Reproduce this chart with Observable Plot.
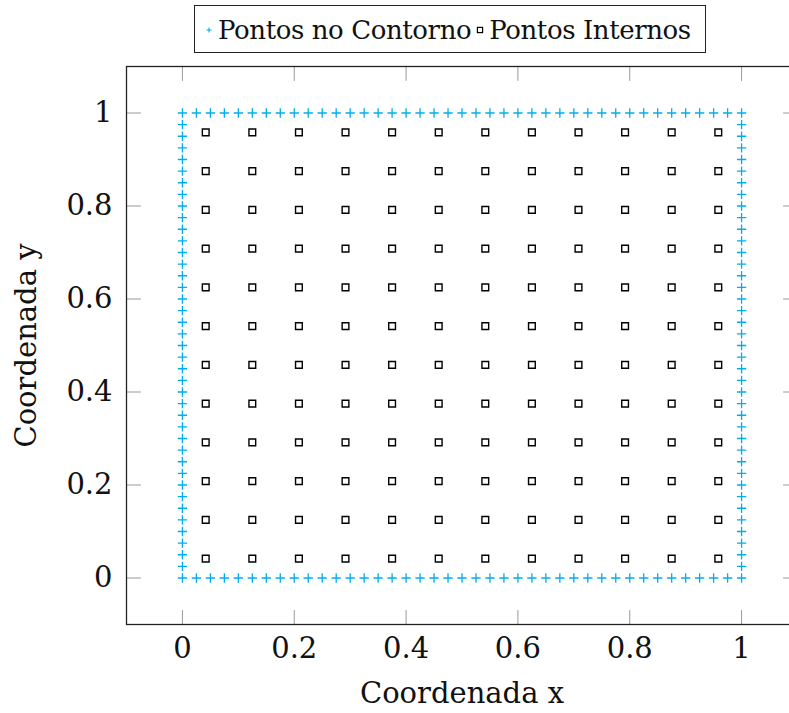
<!DOCTYPE html>
<html>
<head>
<meta charset="utf-8">
<script src="https://cdn.jsdelivr.net/npm/d3@7"></script>
<script src="https://cdn.jsdelivr.net/npm/@observablehq/plot@0.6"></script>
<style>
  html, body { margin: 0; padding: 0; background: #fff; overflow: hidden; width: 789px; height: 713px; }
  #wrap { position: relative; width: 798px; }
  .legend-row { height: 60px; position: relative; }
  .legend {
    position: absolute; left: 194px; top: 5px; height: 48px; box-sizing: border-box;
    border: 1.3px solid #222; display: flex; align-items: center;
    padding: 2px 14px 0 9px;
    font-family: "DejaVu Serif", serif; font-size: 26px; letter-spacing: -0.4px; color: #111; white-space: nowrap;
  }
  .legend svg { display: block; margin-right: 4px; }
  .legend .sep { width: 4px; }
</style>
</head>
<body>
<div id="wrap">
  <div class="legend-row">
    <div class="legend">
      <svg width="10" height="10" viewBox="-5 -5 10 10"><path d="M-2.6,0H2.6M0,-2.6V2.6" stroke="#00AEEF" stroke-width="1.1"/></svg>
      <span>Pontos no Contorno</span>
      <span class="sep"></span>
      <svg width="10" height="10" viewBox="-5 -5 10 10"><rect x="-2.6" y="-2.6" width="5.2" height="5.2" fill="none" stroke="#000" stroke-width="1.2"/></svg>
      <span>Pontos Internos</span>
    </div>
  </div>
  <div id="chart"></div>
</div>
<script>
// Coordinates of the boundary nodes along each side of the unit square
const edgeCoords = [0, 0.025, 0.05, 0.075, 0.1, 0.125, 0.15, 0.175, 0.2, 0.225,
  0.25, 0.275, 0.3, 0.325, 0.35, 0.375, 0.4, 0.425, 0.45, 0.475, 0.5,
  0.525, 0.55, 0.575, 0.6, 0.625, 0.65, 0.675, 0.7, 0.725, 0.75,
  0.775, 0.8, 0.825, 0.85, 0.875, 0.9, 0.925, 0.95, 0.975, 1];
// Coordinates of the interior nodes (same in x and y)
const innerCoords = [0.041667, 0.125, 0.208333, 0.291667, 0.375, 0.458333,
  0.541667, 0.625, 0.708333, 0.791667, 0.875, 0.958333];
// Axis ticks
const tickValues = [0, 0.2, 0.4, 0.6, 0.8, 1];
const tickLabels = ["0", "0.2", "0.4", "0.6", "0.8", "1"];
const axisTitles = ["Coordenada x", "Coordenada y"];

// Boundary nodes: bottom and top rows, then left and right columns without the corners
const boundary = [];
for (const c of edgeCoords) { boundary.push({x: c, y: 0}); boundary.push({x: c, y: 1}); }
for (const c of edgeCoords.slice(1, -1)) { boundary.push({x: 0, y: c}); boundary.push({x: 1, y: c}); }

// Interior nodes: full grid
const interior = [];
for (const yy of innerCoords) for (const xx of innerCoords) interior.push({x: xx, y: yy});

// Inward tick segment drawn by the vector mark
const tickShape = {draw(ctx, l) { ctx.moveTo(0, 0); ctx.lineTo(0, -l); }};
const tickStyle = {length: 14, anchor: "start", shape: tickShape, stroke: "#9a9a9a", strokeWidth: 1};
const fmt = d => tickLabels[tickValues.indexOf(d)];

const chart = Plot.plot({
  width: 798,
  height: 653,
  marginTop: 6,
  marginBottom: 89,
  marginLeft: 126,
  marginRight: 1,
  style: {fontFamily: "'DejaVu Serif', serif", fontSize: "29px", color: "#111", background: "#fff", overflow: "visible"},
  x: {domain: [-0.1, 1.1]},
  y: {domain: [-0.1, 1.1]},
  marks: [
    Plot.vector(tickValues, {x: d => d, frameAnchor: "bottom", rotate: 0, ...tickStyle}),
    Plot.vector(tickValues, {x: d => d, frameAnchor: "top", rotate: 180, ...tickStyle}),
    Plot.vector(tickValues, {y: d => d, frameAnchor: "left", rotate: 90, ...tickStyle}),
    Plot.vector(tickValues, {y: d => d, frameAnchor: "right", rotate: -90, ...tickStyle}),
    Plot.axisX({ticks: tickValues, tickFormat: fmt, tickSize: 0, tickPadding: 13, fontSize: 29, label: null}),
    Plot.axisY({ticks: tickValues, tickFormat: fmt, tickSize: 0, tickPadding: 14, fontSize: 29, label: null}),
    // Axis titles
    Plot.text([axisTitles[0]], {text: d => d, frameAnchor: "bottom", dy: 78, lineAnchor: "bottom", textAnchor: "middle", fontSize: 29}),
    Plot.text([axisTitles[1]], {text: d => d, frameAnchor: "left", dx: -111, rotate: -90, lineAnchor: "top", textAnchor: "middle", fontSize: 29}),
    Plot.dot(boundary, {x: "x", y: "y", symbol: "plus", r: 3.1, stroke: "#00AEEF", strokeWidth: 1.3, fill: "none"}),
    Plot.dot(interior, {x: "x", y: "y", symbol: "square", r: 3.8, stroke: "#000", strokeWidth: 1.4, fill: "none"}),
    Plot.frame({stroke: "#222", strokeWidth: 1.3})
  ]
});
document.getElementById("chart").appendChild(chart);
</script>
</body>
</html>
